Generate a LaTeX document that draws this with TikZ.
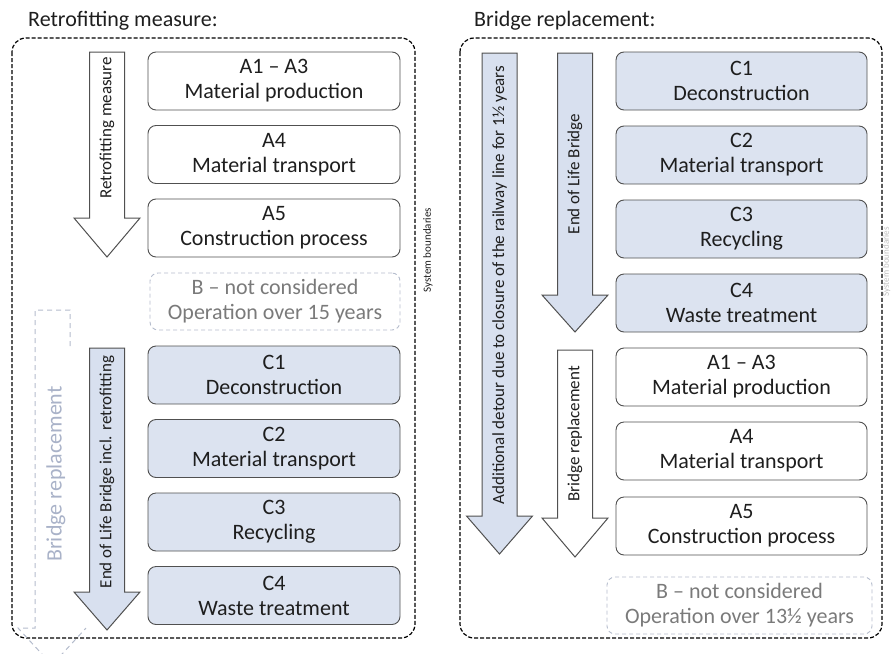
\documentclass[tikz,border=0pt]{standalone}
\usepackage{fontspec}
\setmainfont{Carlito}
\definecolor{cfill}{HTML}{DCE3F0}
\definecolor{afill}{HTML}{D8E0EF}
\definecolor{bord}{HTML}{505050}
\definecolor{txt}{HTML}{1E1E1E}
\definecolor{bgrey}{HTML}{7A7A7A}
\definecolor{bdash}{HTML}{B4BCCC}
\definecolor{faint}{HTML}{A9B2C8}
\newcommand{\DnArrow}[5]{%
  \draw[#5] (#1-17.5,#2) -- (#1+17.5,#2) -- (#1+17.5,#3) -- (#1+33,#3) -- (#1,#4) -- (#1-33,#3) -- (#1-17.5,#3) -- cycle;}
\begin{document}
\begin{tikzpicture}[x=1pt,y=-1pt,
  box/.style={draw=bord, line width=0.9pt, rounded corners=8pt, minimum width=252pt, minimum height=58pt,
     align=center, inner sep=1pt, font=\fontsize{22}{25}\selectfont, text=txt},
  cbox/.style={box, fill=cfill},
  bbox/.style={draw=bdash, dash pattern=on 4pt off 3pt, line width=0.9pt, rounded corners=8pt, minimum height=57pt,
     align=center, inner sep=1pt, font=\fontsize{22}{25}\selectfont, text=bgrey},
  boundary/.style={draw=black, dash pattern=on 4pt off 2pt, line width=1.2pt, rounded corners=14pt},
  arr/.style={draw=bord, line width=1pt, fill=white},
  arrb/.style={draw=bord, line width=1pt, fill=afill},
  atext/.style={rotate=90, font=\fontsize{17}{20}\selectfont, text=txt, inner sep=0pt},
  title/.style={anchor=base west, font=\fontsize{22}{25}\selectfont, text=txt, inner sep=0pt},
  sysb/.style={rotate=90, font=\fontsize{11}{13}\selectfont, text=txt, inner sep=0pt}
]
\useasboundingbox (0,0) rectangle (891,653);
% titles
\node[title] (titleL) at (28,27) {Retrofitting measure:};
\node[title] (titleR) at (474,27) {Bridge replacement:};
% system boundaries
\draw[boundary] (12,38) rectangle (415,638);
\draw[boundary] (460,38) rectangle (882,638);
\node[sysb] (sysL) at (428,250) {System boundaries};
\node[sysb, text=black!25, font=\fontsize{9}{11}\selectfont] (sysR) at (886.5,262) {System boundaries};
% faint bridge replacement arrow (left)
\draw[bdash, dash pattern=on 5pt off 4pt, line width=1pt] (70,346) -- (70,310) -- (35,310) -- (35,628) -- (18,628) -- (52,665) -- (86,628);
\node[rotate=90, font=\fontsize{22}{25}\selectfont, text=faint, inner sep=0pt] (brfaint) at (56,474) {Bridge replacement};
% left arrows
\DnArrow{107}{52}{218}{257}{arr}
\node[atext] (tRet) at (107,128) {Retrofitting measure};
\DnArrow{107}{348}{592}{630}{arrb}
\node[atext] (tEoLL) at (107,472) {End of Life Bridge incl. retrofitting};
% left boxes
\node[box]  (LA13) at (274,81)    {A1 – A3\\Material production};
\node[box]  (LA4)  at (274,154.5) {A4\\Material transport};
\node[box]  (LA5)  at (274,228)   {A5\\Construction process};
\node[bbox, minimum width=250pt] (LB) at (275,301.5) {B – not considered\\Operation over 15 years};
\node[cbox] (LC1)  at (274,375)   {C1\\Deconstruction};
\node[cbox] (LC2)  at (274,448.5) {C2\\Material transport};
\node[cbox] (LC3)  at (274,522)   {C3\\Recycling};
\node[cbox] (LC4)  at (274,595.5) {C4\\Waste treatment};
% right arrows
\DnArrow{499.5}{53}{516}{554}{arrb}
\node[atext] (tDet) at (499.5,285) {Additional detour due to closure of the railway line for 1½ years};
\DnArrow{575}{53}{295}{332}{arrb}
\node[atext] (tEoLR) at (575,174) {End of Life Bridge};
\DnArrow{575}{350}{518}{557}{arr}
\node[atext] (tBR) at (575,434) {Bridge replacement};
% right boxes
\node[cbox, minimum width=251pt] (RC1)  at (741.5,81)  {C1\\Deconstruction};
\node[cbox, minimum width=251pt] (RC2)  at (741.5,155) {C2\\Material transport};
\node[cbox, minimum width=251pt] (RC3)  at (741.5,229) {C3\\Recycling};
\node[cbox, minimum width=251pt] (RC4)  at (741.5,303) {C4\\Waste treatment};
\node[box, minimum width=251pt]  (RA13) at (741.5,377) {A1 – A3\\Material production};
\node[box, minimum width=251pt]  (RA4)  at (741.5,451) {A4\\Material transport};
\node[box, minimum width=251pt]  (RA5)  at (741.5,526) {A5\\Construction process};
\node[bbox, minimum width=265pt] (RB) at (739.5,605.5) {B – not considered\\Operation over 13½ years};
\end{tikzpicture}
\end{document}
